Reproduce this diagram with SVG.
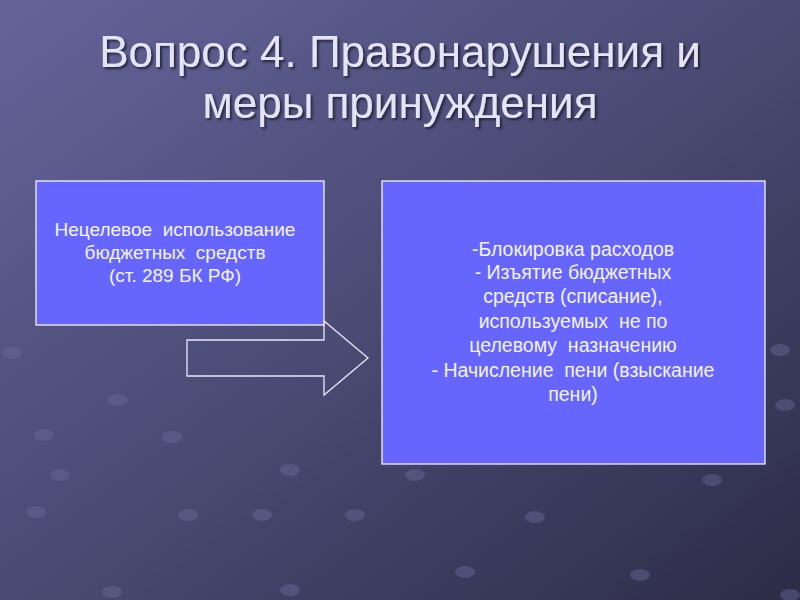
<svg xmlns="http://www.w3.org/2000/svg" width="800" height="600" viewBox="0 0 800 600">
  <defs>
    <linearGradient id="bg" x1="0" y1="0" x2="1" y2="1">
      <stop offset="0" stop-color="#64649a"/>
      <stop offset="0.5" stop-color="#4a4a74"/>
      <stop offset="1" stop-color="#2c2c47"/>
    </linearGradient>
    <filter id="shadow" x="-5%" y="-20%" width="110%" height="150%">
      <feDropShadow dx="2" dy="2" stdDeviation="1" flood-color="#1a1a30" flood-opacity="0.8"/>
    </filter>
  </defs>
  <style>
    .title { font-family: "Liberation Sans", Arial, sans-serif; font-size: 44px; fill: #e4e4f4; text-anchor: middle; }
    .box { fill: #6666ff; stroke: #ffffff; stroke-width: 1.2; }
    .lbl { font-family: "Liberation Sans", Arial, sans-serif; fill: #f4f4ff; text-anchor: middle; }
    .arrow { fill: none; stroke: #e8e8f8; stroke-width: 1.3; }
    .dot { fill: #6a6a98; opacity: 0.45; }
  </style>
  <rect width="800" height="600" fill="url(#bg)"/>
  <g id="bgdots">
    <ellipse class="dot" cx="12" cy="353" rx="10" ry="6"/>
    <ellipse class="dot" cx="118" cy="400" rx="10" ry="6"/>
    <ellipse class="dot" cx="172" cy="437" rx="10" ry="6"/>
    <ellipse class="dot" cx="44" cy="435" rx="10" ry="6"/>
    <ellipse class="dot" cx="36" cy="512" rx="10" ry="6"/>
    <ellipse class="dot" cx="188" cy="515" rx="10" ry="6"/>
    <ellipse class="dot" cx="112" cy="592" rx="10" ry="6"/>
    <ellipse class="dot" cx="262" cy="515" rx="10" ry="6"/>
    <ellipse class="dot" cx="355" cy="515" rx="10" ry="6"/>
    <ellipse class="dot" cx="290" cy="590" rx="10" ry="6"/>
    <ellipse class="dot" cx="465" cy="572" rx="10" ry="6"/>
    <ellipse class="dot" cx="535" cy="517" rx="10" ry="6"/>
    <ellipse class="dot" cx="640" cy="575" rx="10" ry="6"/>
    <ellipse class="dot" cx="790" cy="595" rx="10" ry="6"/>
    <ellipse class="dot" cx="712" cy="480" rx="10" ry="6"/>
    <ellipse class="dot" cx="785" cy="405" rx="10" ry="6"/>
    <ellipse class="dot" cx="780" cy="350" rx="10" ry="6"/>
    <ellipse class="dot" cx="415" cy="475" rx="10" ry="6"/>
    <ellipse class="dot" cx="290" cy="470" rx="10" ry="6"/>
    <ellipse class="dot" cx="60" cy="475" rx="10" ry="6"/>
  </g>
  <g id="title" filter="url(#shadow)">
    <text class="title" x="400" y="67">Вопрос 4. Правонарушения и</text>
    <text class="title" x="400" y="118">меры принуждения</text>
  </g>
  <g id="connectors">
    <path class="arrow" d="M187,340 H324 V321 L368,358 L324,395 V376 H187 Z"/>
  </g>
  <g id="node-left">
    <rect class="box" x="36" y="181" width="288" height="144"/>
    <text class="lbl" font-size="19" x="175" y="236" xml:space="preserve">Нецелевое  использование</text>
    <text class="lbl" font-size="19" x="175" y="259" xml:space="preserve">бюджетных  средств</text>
    <text class="lbl" font-size="19" x="175" y="282">(ст. 289 БК РФ)</text>
  </g>
  <g id="node-right">
    <rect class="box" x="382" y="181" width="383" height="283"/>
    <g class="lbl" font-size="19.5">
      <text x="573" y="256">-Блокировка расходов</text>
      <text x="573" y="279">- Изъятие бюджетных</text>
      <text x="573" y="303">средств (списание),</text>
      <text x="573" y="328" xml:space="preserve">используемых  не по</text>
      <text x="573" y="352" xml:space="preserve">целевому  назначению</text>
      <text x="573" y="377" xml:space="preserve">- Начисление  пени (взыскание</text>
      <text x="573" y="401">пени)</text>
    </g>
  </g>
</svg>
